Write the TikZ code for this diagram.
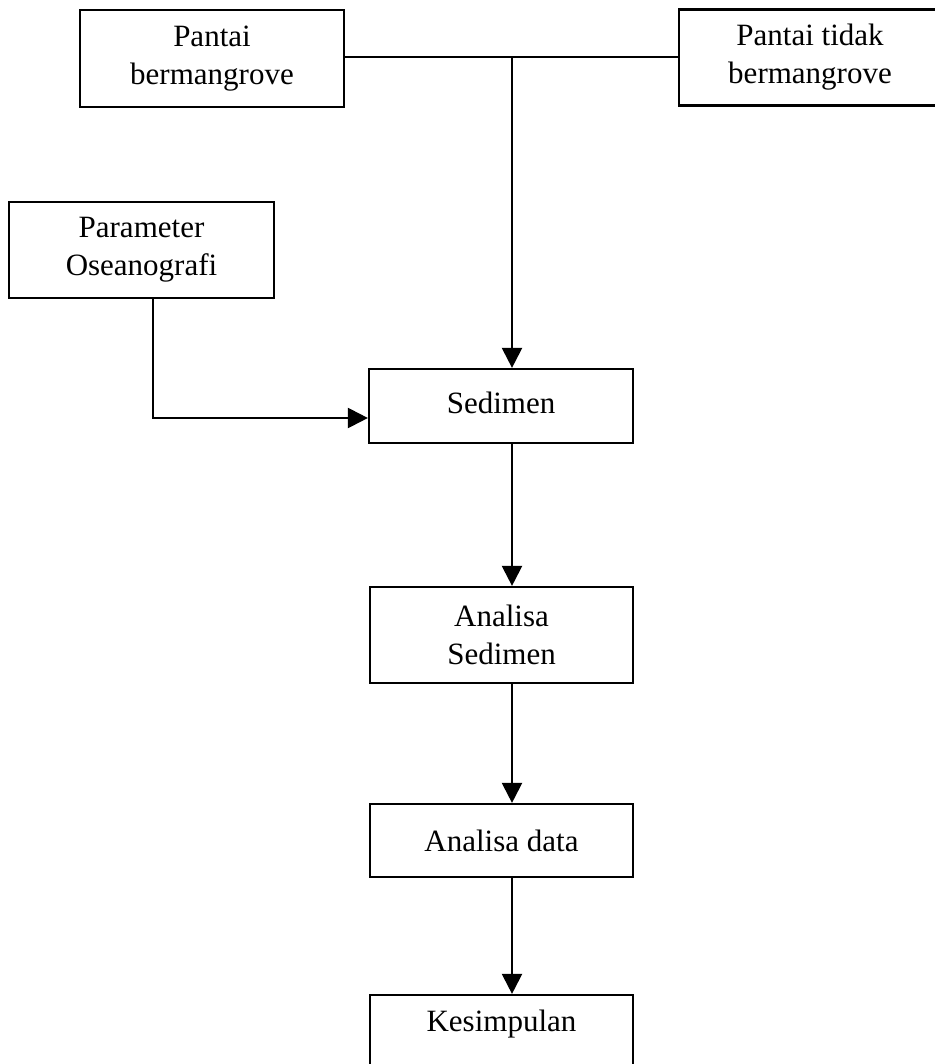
\documentclass[tikz,border=0pt]{standalone}
\usepackage{fontspec}
\setmainfont{Liberation Serif}
\usetikzlibrary{arrows.meta}
\begin{document}
\begin{tikzpicture}[x=0.5pt,y=-0.5pt,
  box/.style={draw,line width=1.1pt,inner sep=0pt,align=center,
    font=\fontsize{15.5}{19}\selectfont},
  conn/.style={line width=1.1pt},
  arr/.style={line width=1.1pt,-{Triangle[length=10pt,width=10pt]}}]
\useasboundingbox (0,0) rectangle (934,1064);
\node[box,minimum width=132pt,minimum height=48.5pt] (pb) at (212,58.5) {Pantai\\bermangrove};
\node[box,minimum width=131pt,minimum height=48pt] (ptb) at (810,57.5) {Pantai tidak\\bermangrove};
\node[box,minimum width=132.5pt,minimum height=48pt] (par) at (141.5,250) {Parameter\\Oseanografi};
\node[box,minimum width=132pt,minimum height=37pt] (sed) at (501,406) {\raisebox{3pt}{Sedimen}};
\node[box,minimum width=131.5pt,minimum height=48pt] (as) at (501.5,635) {Analisa\\Sedimen};
\node[box,minimum width=131.5pt,minimum height=36.5pt] (ad) at (501.5,840.5) {Analisa data};
\node[box,minimum width=131.5pt,minimum height=38pt] (kes) at (501.5,1033) {\raisebox{12pt}{Kesimpulan}};
\coordinate (j) at (512,57);
\draw[conn] (pb.east |- j) -- (ptb.west |- j);
\draw[arr] (j) -- (j |- sed.north);
\coordinate (bend) at (153,418);
\draw[arr] (par.south -| bend) -- (bend) -- (bend -| sed.west);
\draw[arr] (sed.south -| j) -- (as.north -| j);
\draw[arr] (as.south -| j) -- (ad.north -| j);
\draw[arr] (ad.south -| j) -- (kes.north -| j);
\end{tikzpicture}
\end{document}
